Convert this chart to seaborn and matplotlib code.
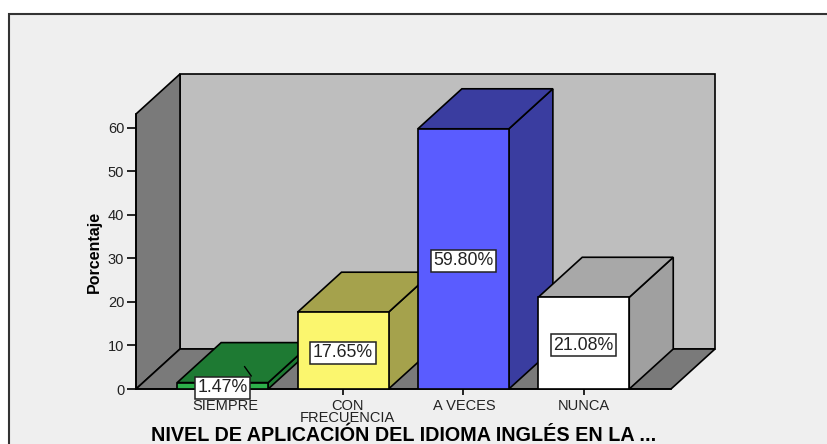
import pandas as pd
import matplotlib
matplotlib.use('Agg')
import matplotlib.pyplot as plt
from matplotlib.patches import Polygon, Rectangle
from matplotlib.transforms import ScaledTranslation
import seaborn as sns

# values
categories = ['SIEMPRE', 'CON\nFRECUENCIA', 'A VECES', 'NUNCA']
percent = [1.47, 17.65, 59.80, 21.08]
front_colors = ['#2DB04A', '#FBF66E', '#5A5CFF', '#FFFFFF']
side_colors = ['#1E7A33', '#A5A24C', '#3A3DA0', '#A0A0A0']
top_colors = ['#1E7A33', '#A5A24C', '#3A3DA0', '#A8A8A8']
y_ticks = [0, 10, 20, 30, 40, 50, 60]
title = 'NIVEL DE APLICACIÓN DEL IDIOMA INGLÉS EN LA ...'

sns.set_theme(style='white')
plt.rcParams['font.family'] = ['Liberation Sans', 'DejaVu Sans']

W, H = 828, 444
fig = plt.figure(figsize=(W / 100, H / 100), dpi=100, facecolor='white')
fig.add_artist(Rectangle((9 / W, -0.1), 1, 1.1 - 14 / H, transform=fig.transFigure,
                         facecolor='#EFEFEF', edgecolor='#333333', linewidth=1.5, zorder=-1))

# axes is the front plane of the 3d box, sizes in pixels of the image
ax_w, ax_h = 535, 275
ax = fig.add_axes([136 / W, (H - 389) / H, ax_w / W, ax_h / H])
ax.patch.set_alpha(0)

df = pd.DataFrame({'cat': categories, 'pct': percent})
sns.barplot(data=df, x='cat', y='pct', hue='cat', palette=front_colors, legend=False,
            width=0.756, edgecolor='black', linewidth=1.2, saturation=1, ax=ax)

xmin, xmax = -0.72, 3.725
ymin, ymax = 0, 63.2
ax.set_xlim(xmin, xmax)
ax.set_ylim(ymin, ymax)

# depth of the box in data units
dx = 44 * (xmax - xmin) / ax_w
dy = 40 * (ymax - ymin) / ax_h


def face(points, color, z):
    ax.add_patch(Polygon(points, closed=True, facecolor=color, edgecolor='black',
                         linewidth=1.2, clip_on=False, zorder=z))


# walls and floor
face([(xmin + dx, ymin + dy), (xmax + dx, ymin + dy), (xmax + dx, ymax + dy), (xmin + dx, ymax + dy)], '#BEBEBE', 0.5)
face([(xmin, ymin), (xmin + dx, ymin + dy), (xmin + dx, ymax + dy), (xmin, ymax)], '#7A7A7A', 0.6)
face([(xmin, ymin), (xmax, ymin), (xmax + dx, ymin + dy), (xmin + dx, ymin + dy)], '#7A7A7A', 0.6)

# sides and tops of the bars, later bars cover the earlier ones
for i, bar in enumerate(ax.patches[:len(categories)]):
    x0, x1, h = bar.get_x(), bar.get_x() + bar.get_width(), bar.get_height()
    face([(x1, 0), (x1 + dx, dy), (x1 + dx, h + dy), (x1, h)], side_colors[i], 2 + i * 2)
    face([(x0, h), (x1, h), (x1 + dx, h + dy), (x0 + dx, h + dy)], top_colors[i], 2 + i * 2)
    bar.set_zorder(3 + i * 2)

for container in ax.containers:
    ax.bar_label(container, fmt='%.2f%%', label_type='center', fontsize=12.8, color='#222222', padding=-1.5,
                 bbox=dict(boxstyle='square,pad=0.14', facecolor='white', edgecolor='#222222', linewidth=1.1),
                 zorder=20)

# little leader line of the smallest label
first = ax.patches[0]
ax.plot([first.get_x() + first.get_width() * 0.74, first.get_x() + first.get_width() * 0.815],
        [first.get_height() + 3.7, first.get_height() + 1.5], color='black', lw=1, zorder=10)

for side in ['top', 'right']:
    ax.spines[side].set_visible(False)
for side in ['left', 'bottom']:
    ax.spines[side].set_color('black')
    ax.spines[side].set_linewidth(1.2)
    ax.spines[side].set_zorder(1)

ax.set_yticks(y_ticks)
ax.tick_params(axis='y', left=True, length=6.5, width=1.2, color='black', pad=2, labelsize=10.5, labelcolor='#222222')
ax.tick_params(axis='x', bottom=True, length=4.5, width=1.2, color='black', pad=2.5, labelsize=10.5, labelcolor='#222222')

# category labels sit a little right of their ticks in the original
label_shift = [3, 4, 1, 0]
for t, s in zip(ax.get_xticklabels(), label_shift):
    t.set_linespacing(0.85)
    t.set_transform(t.get_transform() + ScaledTranslation(s / 100, 0, fig.dpi_scale_trans))

ax.set_ylabel('Porcentaje', fontsize=11.5, fontweight='bold', color='black', labelpad=4)
ax.set_xlabel(title, fontsize=14.2, fontweight='bold', color='black', labelpad=1)

fig.savefig('out.png', dpi=100, facecolor='white')
